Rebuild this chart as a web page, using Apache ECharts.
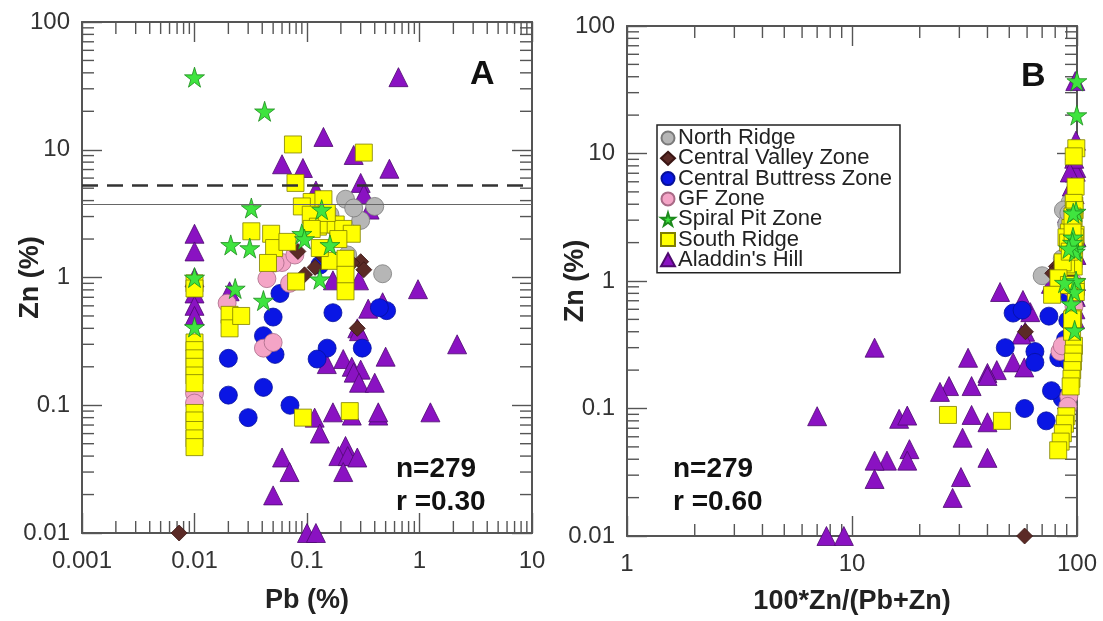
<!DOCTYPE html>
<html>
<head>
<meta charset="utf-8">
<title>Zn vs Pb</title>
<script src="https://cdn.jsdelivr.net/npm/echarts@6/dist/echarts.min.js"></script>
<style>
  html, body { margin: 0; padding: 0; background: #fff; }
  #chart { width: 1103px; height: 621px; }
</style>
</head>
<body>
<div id="chart"></div>
<script>
/* ---- data, panel A: [Pb %, Zn %] ---- */
const northRidgeA = [[0.22, 4.1], [0.40, 3.6], [0.30, 2.8], [0.47, 1.07], [0.23, 1.5], [0.16, 3.1], [0.26, 3.5], [0.19, 2.2]]
const centralValleyA = [[0.0073, 0.01], [0.30, 1.33], [0.32, 1.15], [0.118, 1.2], [0.095, 1.05], [0.25, 1.3], [0.083, 1.6], [0.28, 0.40], [0.14, 1.45]]
const centralButtressA = [[0.0575, 0.75], [0.050, 0.49], [0.041, 0.35], [0.052, 0.25], [0.02, 0.233], [0.02, 0.12], [0.041, 0.138], [0.030, 0.08],
  [0.0706, 0.1], [0.17, 0.53], [0.151, 0.28], [0.123, 0.23], [0.31, 0.28], [0.51, 0.55], [0.44, 0.58], [0.13, 1.25]]
const gfZoneA = [[0.01, 0.124], [0.01, 0.104], [0.041, 0.28], [0.050, 0.31], [0.0195, 0.63], [0.044, 0.98], [0.07, 0.9], [0.06, 1.31], [0.052, 1.3], [0.078, 1.5]]
const spiralPitA = [[0.01, 37], [0.042, 20], [0.032, 3.5], [0.021, 1.8], [0.031, 1.7], [0.01, 1.0], [0.023, 0.82], [0.041, 0.66], [0.01, 0.41],
  [0.09, 2.2], [0.095, 2.0], [0.135, 3.4], [0.16, 1.8], [0.13, 0.97]]
const southRidgeA = [[0.01, 0.9], [0.01, 0.82], [0.01, 0.31], [0.01, 0.27], [0.01, 0.233], [0.01, 0.2], [0.01, 0.171], [0.01, 0.149], [0.01, 0.087],
  [0.01, 0.076], [0.01, 0.064], [0.01, 0.055], [0.01, 0.047], [0.075, 11], [0.32, 9.5], [0.079, 5.5], [0.11, 3.9], [0.14, 4.1], [0.09, 3.6],
  [0.108, 3.1], [0.125, 2.5], [0.032, 2.3], [0.048, 2.2], [0.051, 1.7], [0.067, 1.9], [0.045, 1.3], [0.155, 2.6], [0.18, 2.6], [0.21, 2.4],
  [0.25, 2.2], [0.16, 1.35], [0.22, 1.4], [0.22, 1.05], [0.22, 0.78], [0.08, 0.93], [0.0205, 0.51], [0.0205, 0.4], [0.026, 0.5], [0.092, 0.08],
  [0.24, 0.09], [0.19, 2.0], [0.13, 1.7], [0.15, 3.2], [0.11, 2.4]]
const aladdinA = [[0.65, 37], [0.14, 12.6], [0.060, 7.7], [0.092, 7.2], [0.26, 9.1], [0.54, 7.1], [0.30, 5.5], [0.12, 4.8], [0.32, 4.5], [0.36, 3.4],
  [0.01, 2.2], [0.01, 1.6], [0.01, 1.0], [0.01, 0.75], [0.01, 0.6], [0.01, 0.5], [0.0205, 0.78], [0.97, 0.81], [2.16, 0.30], [1.25, 0.088],
  [0.35, 0.57], [0.47, 0.64], [0.50, 0.24], [0.28, 0.4], [0.29, 0.38], [0.21, 0.23], [0.25, 0.2], [0.30, 0.19], [0.26, 0.18], [0.29, 0.15],
  [0.40, 0.15], [0.43, 0.083], [0.43, 0.088], [0.17, 0.088], [0.25, 0.083], [0.117, 0.08], [0.13, 0.06], [0.22, 0.048], [0.19, 0.04],
  [0.23, 0.04], [0.28, 0.039], [0.21, 0.03], [0.06, 0.039], [0.07, 0.03], [0.05, 0.0197], [0.1, 0.01], [0.12, 0.01], [0.15, 0.21],
  [0.17, 0.95], [0.29, 0.95]]

/* ---- data, panel B: [100*Zn/(Pb+Zn), Zn %] ---- */
const northRidgeB = [[93, 4.1], [87, 3.6], [90, 2.8], [70, 1.1], [86, 1.5], [95, 3.1], [92, 3.4], [92, 2.2]]
const centralValleyB = [[58.5, 0.01], [81, 1.3], [78, 1.15], [91, 1.2], [92, 1.05], [84, 1.3], [95, 1.6], [59, 0.4], [91, 1.45]]
const centralButtressB = [[93, 0.75], [91, 0.49], [89, 0.35], [83, 0.25], [92, 0.233], [86, 0.12], [77, 0.138], [73, 0.08], [58.5, 0.1],
  [75, 0.53], [65, 0.28], [65, 0.23], [48, 0.3], [52, 0.56], [57, 0.59], [91, 1.25]]
const gfZoneB = [[92, 0.124], [91, 0.104], [84, 0.28], [86, 0.31], [97, 0.63], [96, 0.98], [93, 0.9], [96, 1.31], [96, 1.3], [95, 1.5]]
const spiralPitB = [[99.9, 37], [99.8, 20], [99, 3.5], [98.8, 1.8], [98.2, 1.7], [99, 1.0], [97.3, 0.82], [94.2, 0.66], [97.6, 0.41],
  [96, 2.2], [95.5, 2.0], [96.2, 3.4], [92, 1.8], [88, 0.97]]
const southRidgeB = [[98.9, 0.9], [98.8, 0.82], [96.9, 0.31], [96.4, 0.27], [95.9, 0.233], [95.2, 0.2], [94.5, 0.171], [93.7, 0.149],
  [89.7, 0.087], [88.4, 0.076], [86.5, 0.064], [84.6, 0.055], [82.5, 0.047], [99.3, 11], [96.7, 9.5], [98.6, 5.5], [97.3, 3.9], [96.7, 4.1],
  [97.6, 3.6], [96.6, 3.1], [95.2, 2.5], [98.6, 2.3], [97.9, 2.2], [97.1, 1.7], [96.6, 1.9], [96.7, 1.3], [94.4, 2.6], [93.5, 2.6],
  [92, 2.4], [89.8, 2.2], [89.4, 1.35], [86.4, 1.4], [82.7, 1.05], [77.5, 0.78], [92.1, 0.93], [96.1, 0.51], [95.1, 0.4], [95.1, 0.5],
  [46.4, 0.08], [26.7, 0.089], [91.3, 2.0], [92.9, 1.7], [95.5, 3.2], [95.6, 2.4]]
const aladdinB = [[98.3, 37], [98.9, 12.6], [99.2, 7.7], [98.7, 7.2], [97.2, 9.1], [92.9, 7.1], [94.8, 5.5], [97.6, 4.8], [93.4, 4.5],
  [90.4, 3.4], [99.5, 2.2], [99.4, 1.6], [99, 1.0], [98.7, 0.75], [98.4, 0.6], [98, 0.5], [97.4, 0.78], [45.5, 0.82], [12.6, 0.3],
  [7, 0.087], [62, 0.57], [57.5, 0.71], [32.8, 0.25], [58.8, 0.4], [56.7, 0.38], [52, 0.23], [44, 0.2], [40, 0.19], [40, 0.18],
  [34, 0.15], [27, 0.15], [16.2, 0.083], [17.6, 0.088], [34, 0.089], [24.6, 0.135], [40, 0.078], [31, 0.059], [18, 0.048],
  [17.6, 0.039], [14.3, 0.039], [12.6, 0.039], [12.6, 0.028], [40, 0.041], [30.5, 0.029], [28, 0.0199], [7.7, 0.01], [9.2, 0.01],
  [58.3, 0.21], [84.8, 0.95], [76.6, 0.95]]

/* 图例顺序 */
const zoneNames = ['North Ridge', 'Central Valley Zone', 'Central Buttress Zone', 'GF Zone', 'Spiral Pit Zone', 'South Ridge', "Aladdin's Hill"]

/* 面板A的两条参考线 (Zn %) */
const dashedLevel = 5.3
const solidLevel = 3.75

const FONT = '"Liberation Sans", Arial, sans-serif'
const STAR = 'path://M50,0 L61,35 L98,35 L68,57 L79,91 L50,70 L21,91 L32,57 L2,35 L39,35 Z'

/* 各区的标记样式 */
const zoneStyle = {
  'North Ridge': { symbol: 'circle', size: 18, color: '#b6b6b6', border: '#7a7a7a' },
  'Central Valley Zone': { symbol: 'diamond', size: 16, color: '#5b2a26', border: '#3a1614' },
  'Central Buttress Zone': { symbol: 'circle', size: 18, color: '#0a16e4', border: '#06109a' },
  'GF Zone': { symbol: 'circle', size: 18, color: '#f4a4c6', border: '#a86a86' },
  'Spiral Pit Zone': { symbol: STAR, size: 20, color: '#3fe43f', border: '#1d8a1d' },
  'South Ridge': { symbol: 'rect', size: 17, color: '#ffff00', border: '#7f7f00' },
  "Aladdin's Hill": { symbol: 'triangle', size: 19, color: '#8a12c2', border: '#4d0a6e' }
}

/* log 轴的次刻度 2..9 × 10^k */
function minorValues(fromExp, toExp) {
  const out = []
  for (let k = fromExp; k < toExp; k++) {
    for (let m = 2; m <= 9; m++) out.push(+(m * Math.pow(10, k)).toPrecision(3))
  }
  return out
}

function scatter(name, data, grid) {
  const s = zoneStyle[name]
  return {
    name: name,
    type: 'scatter',
    xAxisIndex: grid * 2,
    yAxisIndex: grid * 2,
    symbol: s.symbol,
    symbolSize: s.size,
    clip: false,
    itemStyle: { color: s.color, borderColor: s.border, borderWidth: 0.8, opacity: 1 },
    data: data
  }
}

/* 次刻度用 custom 系列画在四条边上 */
function minorTickSeries(grid, dim, values, other) {
  return {
    type: 'custom',
    xAxisIndex: grid * 2,
    yAxisIndex: grid * 2,
    silent: true,
    z: 1,
    data: values.map(v => (dim === 'x' ? [v, other] : [other, v])),
    renderItem: function (params, api) {
      const cs = params.coordSys
      const p = api.coord([api.value(0), api.value(1)])
      const len = 12
      const style = { stroke: '#555', lineWidth: 1.4 }
      if (dim === 'x') {
        return {
          type: 'group',
          children: [
            { type: 'line', shape: { x1: p[0], y1: cs.y + cs.height, x2: p[0], y2: cs.y + cs.height - len }, style: style },
            { type: 'line', shape: { x1: p[0], y1: cs.y, x2: p[0], y2: cs.y + len }, style: style }
          ]
        }
      }
      return {
        type: 'group',
        children: [
          { type: 'line', shape: { x1: cs.x, y1: p[1], x2: cs.x + len, y2: p[1] }, style: style },
          { type: 'line', shape: { x1: cs.x + cs.width, y1: p[1], x2: cs.x + cs.width - len, y2: p[1] }, style: style }
        ]
      }
    }
  }
}

function logAxis(grid, position, min, max, split, name, nameGap) {
  const isMain = position === 'bottom' || position === 'left'
  return {
    gridIndex: grid,
    type: 'log',
    logBase: 10,
    min: min,
    max: max,
    splitNumber: split,
    position: position,
    axisLine: { show: true, onZero: false, lineStyle: { color: '#555', width: 2 } },
    axisTick: { show: true, inside: true, length: 20, lineStyle: { color: '#555', width: 1.4 } },
    axisLabel: {
      show: isMain,
      fontSize: 24,
      color: '#333',
      fontFamily: FONT,
      margin: position === 'left' ? 12 : 16,
      formatter: v => String(+(+v).toPrecision(3))
    },
    splitLine: { show: false },
    name: isMain ? name : '',
    nameLocation: 'middle',
    nameGap: nameGap,
    nameMoveOverlap: false,
    nameTextStyle: { fontSize: 27, fontWeight: 'bold', color: '#222', fontFamily: FONT }
  }
}

const chart = echarts.init(document.getElementById('chart'))

const seriesA = [
  scatter("Aladdin's Hill", aladdinA, 0),
  scatter('Central Buttress Zone', centralButtressA, 0),
  scatter('GF Zone', gfZoneA, 0),
  scatter('North Ridge', northRidgeA, 0),
  scatter('Central Valley Zone', centralValleyA, 0),
  scatter('South Ridge', southRidgeA, 0),
  scatter('Spiral Pit Zone', spiralPitA, 0)
]
/* 参考线：虚线与实线 */
seriesA[6].markLine = {
  silent: true,
  symbol: 'none',
  label: { show: false },
  data: [
    { yAxis: dashedLevel, lineStyle: { type: [16, 9], color: '#333', width: 2.6 } },
    { yAxis: solidLevel, lineStyle: { type: 'solid', color: '#666', width: 1.2 } }
  ]
}

const seriesB = [
  scatter("Aladdin's Hill", aladdinB, 1),
  scatter('Central Buttress Zone', centralButtressB, 1),
  scatter('GF Zone', gfZoneB, 1),
  scatter('North Ridge', northRidgeB, 1),
  scatter('Central Valley Zone', centralValleyB, 1),
  scatter('South Ridge', southRidgeB, 1),
  scatter('Spiral Pit Zone', spiralPitB, 1)
]

chart.setOption({
  animation: false,
  textStyle: { fontFamily: FONT },
  grid: [
    { left: 82, top: 22, width: 450, height: 511, outerBoundsMode: 'none', containLabel: false },
    { left: 627, top: 26, width: 450, height: 510, outerBoundsMode: 'none', containLabel: false }
  ],
  xAxis: [
    logAxis(0, 'bottom', 0.001, 10, 4, 'Pb (%)', 54),
    logAxis(0, 'top', 0.001, 10, 4, '', 0),
    logAxis(1, 'bottom', 1, 100, 2, '100*Zn/(Pb+Zn)', 52),
    logAxis(1, 'top', 1, 100, 2, '', 0)
  ],
  yAxis: [
    logAxis(0, 'left', 0.01, 100, 4, 'Zn (%)', 38),
    logAxis(0, 'right', 0.01, 100, 4, '', 0),
    logAxis(1, 'left', 0.01, 100, 4, 'Zn (%)', 38),
    logAxis(1, 'right', 0.01, 100, 4, '', 0)
  ],
  legend: {
    data: zoneNames,
    orient: 'vertical',
    left: 657,
    top: 125,
    backgroundColor: '#fff',
    borderColor: '#222',
    borderWidth: 1.5,
    borderRadius: 0,
    padding: [2, 8, 2, 3],
    itemGap: -1.7,
    itemWidth: 14,
    itemHeight: 13,
    textStyle: { fontSize: 22, color: '#222', fontFamily: FONT, padding: [0, 0, 0, -2] },
    selectedMode: false,
    z: 10
  },
  graphic: [
    { type: 'text', left: 470, top: 58, style: { text: 'A', font: 'bold 34px ' + FONT, fill: '#111' } },
    { type: 'text', left: 1021, top: 60, style: { text: 'B', font: 'bold 34px ' + FONT, fill: '#111' } },
    { type: 'text', left: 396, top: 453, style: { text: 'n=279\nr =0.30', font: 'bold 28px ' + FONT, fill: '#111', lineHeight: 33 } },
    { type: 'text', left: 673, top: 453, style: { text: 'n=279\nr =0.60', font: 'bold 28px ' + FONT, fill: '#111', lineHeight: 33 } }
  ],
  series: [
    minorTickSeries(0, 'x', minorValues(-3, 1), 1),
    minorTickSeries(0, 'y', minorValues(-2, 2), 0.01),
    minorTickSeries(1, 'x', minorValues(0, 2), 1),
    minorTickSeries(1, 'y', minorValues(-2, 2), 10)
  ].concat(seriesA, seriesB)
})
</script>
</body>
</html>
